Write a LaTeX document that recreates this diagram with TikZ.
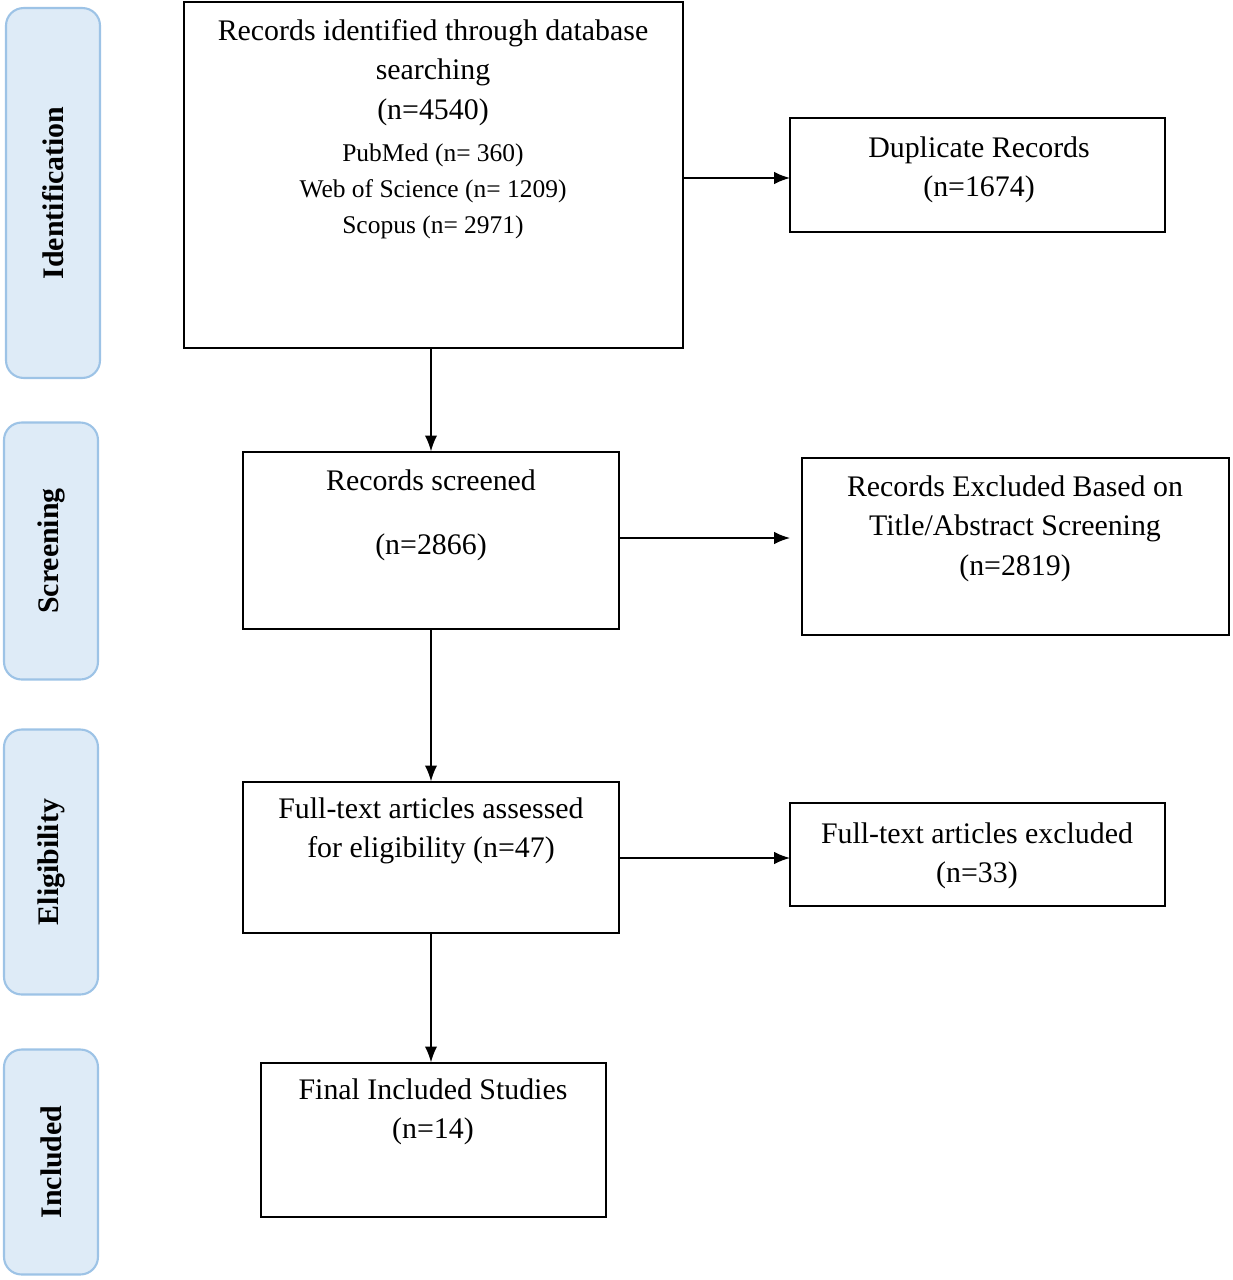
\documentclass[tikz,border=0pt]{standalone}
\usepackage{fontspec}
\setmainfont{Liberation Serif}
\usetikzlibrary{positioning, arrows.meta}
\definecolor{phasefill}{HTML}{DEEBF7}
\definecolor{phaseline}{HTML}{9DC3E6}
\tikzset{
  box/.style={draw, thick, rectangle, inner sep=0pt},
  txt/.style={align=center, font=\fontsize{17}{22.5}\selectfont, inner sep=0pt, anchor=north},
  small/.style={align=center, font=\fontsize{14.5}{20.5}\selectfont, inner sep=0pt, anchor=north},
  phase/.style={draw=phaseline, fill=phasefill, line width=1.2pt, rounded corners=10pt,
    minimum width=1.88cm, font=\fontsize{17}{20}\bfseries\selectfont, inner sep=0pt},
  flow/.style={-{Latex[length=9pt, width=7pt]}, thick}
}
\begin{document}
\begin{tikzpicture}[x=0.02cm, y=-0.02cm]
    \useasboundingbox (0,0) rectangle (1232,1280);
    % phase labels
    \node[phase, minimum height=7.4cm] (pid) at (53,193) {\rotatebox{90}{Identification}};
    \node[phase, minimum height=5.14cm] (psc) at (51,551) {\rotatebox{90}{Screening}};
    \node[phase, minimum height=5.3cm] (pel) at (51,862) {\rotatebox{90}{Eligibility}};
    \node[phase, minimum height=4.5cm] (pin) at (51,1162) {\rotatebox{90}{Included}};

    % main column
    \node[box, minimum width=9.98cm, minimum height=6.92cm] (ident) at (433.5,175) {};
    \node[txt] (identt) at (433,19) {Records identified through database\\searching\\(n=4540)};
    \node[small] (identd) at (433,143) {PubMed (n= 360)\\Web of Science (n= 1209)\\Scopus (n= 2971)};
    \node[box, minimum width=7.52cm, minimum height=3.54cm] (scr) at (431,540.5) {};
    \node[txt] at (431,469) {Records screened\\[14pt](n=2866)};
    \node[box, minimum width=7.52cm, minimum height=3.02cm] (full) at (431,857.5) {};
    \node[txt] at (431,797) {Full-text articles assessed\\for eligibility (n=47)};
    \node[box, minimum width=6.9cm, minimum height=3.08cm] (final) at (433.5,1140) {};
    \node[txt] at (433,1078) {Final Included Studies\\(n=14)};

    % exclusions
    \node[box, minimum width=7.5cm, minimum height=2.28cm] (dup) at (977.5,175) {};
    \node[txt] at (979,136) {Duplicate Records\\(n=1674)};
    \node[box, minimum width=8.54cm, minimum height=3.54cm] (exc1) at (1015.5,546.5) {};
    \node[txt] at (1015,475) {Records Excluded Based on\\Title/Abstract Screening\\(n=2819)};
    \node[box, minimum width=7.5cm, minimum height=2.06cm] (exc2) at (977.5,854.5) {};
    \node[txt] at (977,822) {Full-text articles excluded\\(n=33)};

    % connectors
    \coordinate (a1) at (790,178);
    \coordinate (a2) at (790,538);
    \coordinate (a3) at (790,858);
    \draw[flow] (ident.south -| scr.north) -- (scr.north);
    \draw[flow] (scr) -- (full);
    \draw[flow] (full.south) -- (full.south |- final.north);
    \draw[flow] (ident.east |- a1) -- (a1);
    \draw[flow] (scr.east |- a2) -- (a2);
    \draw[flow] (full.east |- a3) -- (a3);
\end{tikzpicture}
\end{document}
